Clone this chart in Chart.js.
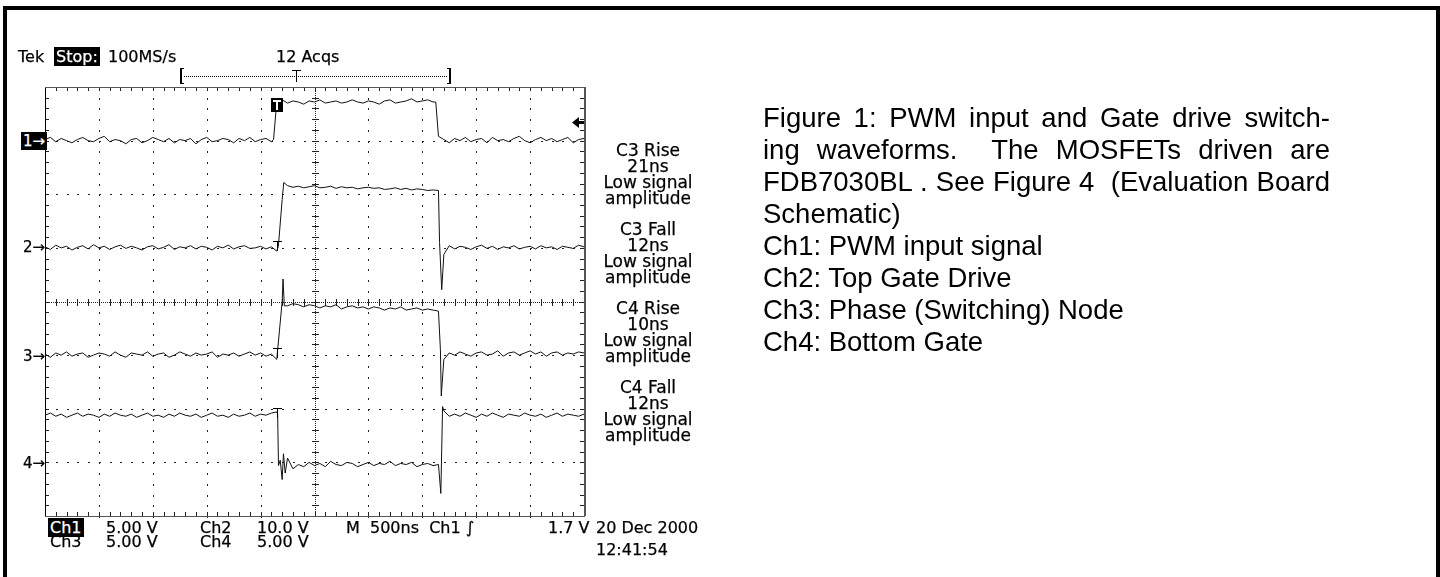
<!DOCTYPE html>
<html>
<head>
<meta charset="utf-8">
<script src="https://cdn.jsdelivr.net/npm/chart.js@4.4.1/dist/chart.umd.min.js"></script>
<style>
body { margin: 0; background: #fff; }
#page { position: relative; width: 1440px; height: 577px; overflow: hidden; }
#scope { position: absolute; left: 0; top: 0; }
.frame { position: absolute; left: 3px; top: 6px; width: 1437px; height: 640px; border: 4px solid #000; box-sizing: border-box; }
.t { position: absolute; font-family: 'DejaVu Sans', sans-serif; white-space: nowrap; color: #000; -webkit-text-stroke: 0.25px #000; }
.hd { font-size: 16px; line-height: 16px; top: 49px; }
.inv { background: #000; color: #fff; padding: 0 2px; -webkit-text-stroke: 0.25px #fff; }
.chm { font-size: 15px; line-height: 16px; }
.rl { left: 590px; width: 116px; text-align: center; font-size: 17px; line-height: 16px; }
.bt { font-size: 16px; line-height: 14px; }
.cap { position: absolute; left: 763px; top: 102px; width: 567px; font-family: 'Liberation Sans', Arial, sans-serif; font-size: 27.5px; line-height: 32px; color: #000; }
.cap .j { text-align: justify; text-align-last: justify; }
</style>
</head>
<body>
<div id="page">
  <canvas id="scope" width="1440" height="577"></canvas>
  <div class="frame"></div>

  <div class="t hd" style="left:18px">Tek</div>
  <div class="t hd" style="left:54px"><span class="inv">Stop:</span></div>
  <div class="t hd" style="left:108px">100MS/s</div>
  <div class="t hd" style="left:276px">12 Acqs</div>

  <div class="t chm" style="left:21px;top:133px"><span class="inv">1→</span></div>
  <div class="t chm" style="left:23px;top:239px">2→</div>
  <div class="t chm" style="left:23px;top:348px">3→</div>
  <div class="t chm" style="left:23px;top:455px">4→</div>

  <div class="t rl" style="top:142px">C3 Rise<br>21ns<br>Low signal<br>amplitude</div>
  <div class="t rl" style="top:221px">C3 Fall<br>12ns<br>Low signal<br>amplitude</div>
  <div class="t rl" style="top:300px">C4 Rise<br>10ns<br>Low signal<br>amplitude</div>
  <div class="t rl" style="top:379px">C4 Fall<br>12ns<br>Low signal<br>amplitude</div>

  <div class="t bt" style="left:48px;top:521px"><span class="inv">Ch1</span></div>
  <div class="t bt" style="left:106px;top:521px">5.00 V</div>
  <div class="t bt" style="left:200px;top:521px">Ch2</div>
  <div class="t bt" style="left:257px;top:521px">10.0 V</div>
  <div class="t bt" style="left:346px;top:521px">M&nbsp; 500ns&nbsp; Ch1 ∫</div>
  <div class="t bt" style="left:548px;top:521px">1.7 V</div>
  <div class="t bt" style="left:50px;top:535px">Ch3</div>
  <div class="t bt" style="left:106px;top:535px">5.00 V</div>
  <div class="t bt" style="left:200px;top:535px">Ch4</div>
  <div class="t bt" style="left:257px;top:535px">5.00 V</div>
  <div class="t bt" style="left:596px;top:521px">20 Dec 2000</div>
  <div class="t bt" style="left:596px;top:543px">12:41:54</div>

  <div class="cap">
    <div class="j">Figure 1: PWM input and Gate drive switch-</div>
    <div class="j">ing waveforms.&nbsp; The MOSFETs driven are</div>
    <div class="j">FDB7030BL . See Figure 4&nbsp; (Evaluation Board</div>
    <div>Schematic)</div>
    <div>Ch1: PWM input signal</div>
    <div>Ch2: Top Gate Drive</div>
    <div>Ch3: Phase (Switching) Node</div>
    <div>Ch4: Bottom Gate</div>
  </div>
</div>

<script>
// sample clock, ns (M 500ns/div, 10 divisions)
const sampleNs = [
  0, 50, 100, 150, 200, 250, 300, 350, 400, 450,
  500, 550, 600, 650, 700, 750, 800, 850, 900, 950,
  1000, 1050, 1100, 1150, 1200, 1250, 1300, 1350, 1400, 1450,
  1500, 1550, 1600, 1650, 1700, 1750, 1800, 1850, 1900, 1950,
  2000, 2050, 2100, 2150, 2200, 2250, 2300, 2350, 2400, 2450,
  2500, 2550, 2600, 2650, 2700, 2750, 2800, 2850, 2900, 2950,
  3000, 3050, 3100, 3150, 3200, 3250, 3300, 3350, 3400, 3450,
  3500, 3550, 3600, 3650, 3700, 3750, 3800, 3850, 3900, 3950,
  4000, 4050, 4100, 4150, 4200, 4250, 4300, 4350, 4400, 4450,
  4500, 4550, 4600, 4650, 4700, 4750, 4800, 4850, 4900, 4950,
  5000
];

// volts
const ch1Volts = [
  0.1, 0.3, -0.1, 0.2, 0.0, -0.2, 0.1, 0.3, 0.0, -0.1,
  0.2, 0.4, -0.1, 0.1, 0.0, -0.3, 0.1, 0.2, -0.2, 0.0,
  0.3, 0.1, -0.1, 0.2, -0.2, 0.1, 0.0, 0.2, -0.3, 0.1,
  0.3, -0.1, 0.0, 0.2, 0.1, -0.2, 0.2, 0.0, 0.3, -0.1,
  0.1, 0.2, -0.1, 3.6, 3.8, 3.5, 3.7, 3.6, 3.4, 3.7,
  3.6, 3.8, 3.5, 3.6, 3.7, 3.5, 3.6, 3.8, 3.6, 3.5,
  3.7, 3.6, 3.4, 3.7, 3.8, 3.5, 3.6, 3.7, 3.9, 3.6,
  3.7, 3.8, 3.6, 0.4, 0.1, -0.2, 0.2, 0.0, 0.3, -0.1,
  0.1, 0.2, -0.2, 0.3, 0.0, 0.1, -0.1, 0.2, 0.4, 0.0,
  -0.2, 0.1, 0.3, 0.0, 0.2, -0.1, 0.1, 0.3, -0.2, 0.1,
  0.2
];
const ch1Edges = [[2120, 0.1], [3625, 3.6]];

const ch2Volts = [
  0.2, -0.3, 0.5, 0.0, 0.3, -0.4, 0.1, 0.4, -0.2, 0.6,
  0.0, 0.3, -0.3, 0.2, 0.5, -0.1, 0.3, 0.0, -0.4, 0.2,
  0.4, -0.2, 0.1, 0.6, -0.3, 0.2, 0.0, 0.4, -0.2, 0.3,
  0.1, -0.4, 0.3, 0.0, 0.5, -0.2, 0.2, 0.4, -0.1, 0.0,
  0.3, -0.2, 0.2, -0.6, 9.0, 11.6, 11.3, 11.5, 11.2, 11.4,
  11.6, 11.2, 11.3, 11.5, 11.1, 11.4, 11.2, 11.3, 11.0, 11.2,
  11.3, 11.1, 11.2, 10.9, 11.0, 11.2, 10.9, 11.1, 10.8, 11.0,
  10.9, 10.7, 10.8, 10.7, -1.2, 0.4, -0.2, 0.3, 0.1, -0.3,
  0.2, 0.5, -0.1, 0.3, -0.3, 0.2, 0.0, 0.4, -0.2, 0.1,
  0.3, -0.2, 0.4, 0.0, 0.2, -0.3, 0.3, 0.1, -0.1, 0.5,
  0.2
];
const ch2Edges = [[2165, 0.3], [2215, 12.2], [3660, 1.0], [3680, -7.8]];

const ch3Volts = [
  0.1, -0.2, 0.2, 0.0, 0.3, -0.1, 0.1, 0.2, -0.2, 0.0,
  0.2, 0.1, -0.1, 0.3, 0.0, -0.2, 0.2, 0.1, 0.0, 0.3,
  -0.1, 0.1, 0.2, -0.2, 0.0, 0.3, 0.1, -0.1, 0.2, 0.0,
  0.1, 0.3, -0.2, 0.1, 0.0, 0.2, -0.1, 0.1, 0.3, 0.0,
  0.2, -0.1, 0.1, -0.4, 5.0, 4.6, 4.8, 4.7, 4.5, 4.7,
  4.6, 4.4, 4.6, 4.5, 4.7, 4.3, 4.5, 4.6, 4.4, 4.5,
  4.3, 4.5, 4.4, 4.2, 4.4, 4.3, 4.5, 4.2, 4.3, 4.4,
  4.2, 4.3, 4.2, 4.1, -0.4, 0.2, 0.0, 0.3, 0.1, -0.1,
  0.2, 0.3, 0.0, 0.1, 0.4, -0.1, 0.2, 0.3, 0.0, 0.2,
  0.4, 0.1, 0.3, -0.1, 0.2, 0.3, 0.0, 0.2, 0.1, 0.3,
  0.2
];
const ch3Edges = [[2208, 7.1], [2220, 4.6], [3668, 0.5], [3676, -3.8]];

const ch4Volts = [
  4.4, 4.6, 4.3, 4.5, 4.2, 4.4, 4.6, 4.3, 4.5, 4.4,
  4.2, 4.5, 4.3, 4.6, 4.4, 4.3, 4.5, 4.2, 4.4, 4.6,
  4.3, 4.4, 4.2, 4.5, 4.3, 4.6, 4.4, 4.3, 4.5, 4.2,
  4.4, 4.6, 4.3, 4.4, 4.2, 4.5, 4.3, 4.4, 4.6, 4.3,
  4.5, 4.4, 4.6, 4.7, -1.6, 0.4, -0.6, -0.2, -0.4, 0.0,
  -0.3, -0.1, -0.4, 0.1, -0.2, -0.3, 0.0, -0.1, -0.4, -0.2,
  0.0, -0.3, -0.1, -0.2, 0.1, -0.3, -0.1, -0.2, 0.0, -0.4,
  -0.2, -0.1, -0.3, -0.2, 4.8, 4.3, 4.5, 4.3, 4.6, 4.4,
  4.2, 4.5, 4.3, 4.6, 4.4, 4.2, 4.5, 4.4, 4.3, 4.6,
  4.4, 4.3, 4.5, 4.2, 4.4, 4.6, 4.3, 4.5, 4.4, 4.3,
  4.5
];
const ch4Edges = [[2158, 4.5], [2166, -0.3], [2182, 0.2], [2212, 0.8], [2228, -1.0], [3672, -2.9], [3688, 5.2]];

// channel settings: volts/div and ground position in divisions from the bottom
const voltsPerDiv = [5, 10, 5, 5];
const groundDiv = [7, 5, 3, 1];
const nsPerDiv = 500;
const triggerNs = 2150;
const triggerLevel = 1.7;

function toTrace(volts, edges, ch) {
  const pts = sampleNs.map((t, i) => ({ x: t, y: volts[i] }));
  edges.forEach(e => pts.push({ x: e[0], y: e[1] }));
  pts.sort((a, b) => a.x - b.x);
  return pts.map(p => ({ x: p.x, y: groundDiv[ch] + p.y / voltsPerDiv[ch] }));
}

const traces = [
  toTrace(ch1Volts, ch1Edges, 0),
  toTrace(ch2Volts, ch2Edges, 1),
  toTrace(ch3Volts, ch3Edges, 2),
  toTrace(ch4Volts, ch4Edges, 3)
];

// graticule: dotted division lines, ticked centre cross and frame
const graticule = {
  id: 'graticule',
  beforeDatasetsDraw(chart) {
    const { ctx, chartArea: a, scales: { x, y } } = chart;
    const px = v => Math.round(x.getPixelForValue(v));
    const py = v => Math.round(y.getPixelForValue(v));
    ctx.save();
    ctx.fillStyle = '#222';
    for (let d = 1; d < 10; d++) {
      if (d === 5) continue;
      for (let m = 0; m <= 40; m++) ctx.fillRect(px(d * nsPerDiv), py(m * 0.2), 1, 2);
    }
    for (let d = 1; d < 8; d++) {
      if (d === 4) continue;
      for (let m = 0; m <= 50; m++) ctx.fillRect(px(m * nsPerDiv / 5), py(d), 2, 1);
    }
    // centre lines
    const cx = px(5 * nsPerDiv), cy = py(4);
    for (let yy = a.top; yy < a.bottom; yy += 2) ctx.fillRect(cx, yy, 1, 1);
    for (let xx = a.left; xx < a.right; xx += 2) ctx.fillRect(xx, cy, 1, 1);
    for (let m = 0; m <= 40; m++) ctx.fillRect(cx - 3, py(m * 0.2), 7, 1);
    for (let m = 0; m <= 50; m++) ctx.fillRect(px(m * nsPerDiv / 5), cy - 3, 1, 7);
    // frame ticks
    for (let m = 0; m <= 50; m++) {
      ctx.fillRect(px(m * nsPerDiv / 5), a.top, 1, 4);
      ctx.fillRect(px(m * nsPerDiv / 5), a.bottom - 4, 1, 4);
    }
    for (let m = 0; m <= 40; m++) {
      ctx.fillRect(a.left, py(m * 0.2), 4, 1);
      ctx.fillRect(a.right - 4, py(m * 0.2), 4, 1);
    }
    ctx.fillStyle = '#000';
    ctx.fillRect(a.left, a.top, 1, a.bottom - a.top);
    ctx.fillStyle = '#555';
    ctx.fillRect(a.left, a.top, a.right - a.left, 1);
    ctx.fillRect(a.left, a.bottom, a.right - a.left + 1, 1);
    ctx.fillRect(a.right, a.top, 2, a.bottom - a.top);
    ctx.restore();
  },
  afterDatasetsDraw(chart) {
    const { ctx, chartArea: a, scales: { x, y } } = chart;
    const tx = Math.round(x.getPixelForValue(triggerNs));
    ctx.save();
    ctx.fillStyle = '#000';
    // trigger box on ch1
    const hy = Math.round(y.getPixelForValue(groundDiv[0] + 3.6 / voltsPerDiv[0]));
    ctx.fillRect(tx - 6, hy - 4, 12, 14);
    ctx.fillStyle = '#fff';
    ctx.fillRect(tx - 4, hy - 2, 8, 2);
    ctx.fillRect(tx - 1, hy - 2, 2, 10);
    ctx.fillStyle = '#000';
    // small T marks on ch2..ch4
    const marks = [groundDiv[1], groundDiv[2], groundDiv[3] + 4.4 / voltsPerDiv[3]];
    marks.forEach(v => {
      const my = Math.round(y.getPixelForValue(v));
      ctx.fillRect(tx - 4, my - 7, 9, 1);
      ctx.fillRect(tx, my - 7, 1, 10);
    });
    // trigger level arrow
    const ly = Math.round(y.getPixelForValue(groundDiv[0] + triggerLevel / voltsPerDiv[0]));
    ctx.beginPath();
    ctx.moveTo(a.right - 12, ly + 0.5);
    ctx.lineTo(a.right - 5, ly - 5);
    ctx.lineTo(a.right - 5, ly + 6);
    ctx.closePath();
    ctx.fill();
    ctx.fillRect(a.right - 6, ly - 1, 6, 3);
    // record bracket above graticule
    ctx.fillRect(180, 68, 2, 16);
    ctx.fillRect(180, 68, 4, 1);
    ctx.fillRect(180, 83, 4, 1);
    ctx.fillRect(449, 68, 2, 16);
    ctx.fillRect(447, 68, 4, 1);
    ctx.fillRect(447, 83, 4, 1);
    for (let xx = 184; xx < 447; xx += 2) ctx.fillRect(xx, 76, 1, 1);
    ctx.fillRect(292, 70, 9, 1);
    ctx.fillRect(296, 70, 1, 12);
    ctx.restore();
  }
};

new Chart(document.getElementById('scope').getContext('2d'), {
  type: 'line',
  data: {
    datasets: traces.map((pts, i) => ({
      label: 'Ch' + (i + 1),
      data: pts,
      borderColor: '#111',
      borderWidth: 1,
      pointRadius: 0,
      tension: 0,
      fill: false
    }))
  },
  options: {
    responsive: false,
    animation: false,
    devicePixelRatio: 1,
    layout: { padding: { left: 45, top: 87, right: 856, bottom: 61 } },
    scales: {
      x: { type: 'linear', min: 0, max: 10 * nsPerDiv, display: false },
      y: { type: 'linear', min: 0, max: 8, display: false }
    },
    plugins: { legend: { display: false }, tooltip: { enabled: false } }
  },
  plugins: [graticule]
});
</script>
</body>
</html>
